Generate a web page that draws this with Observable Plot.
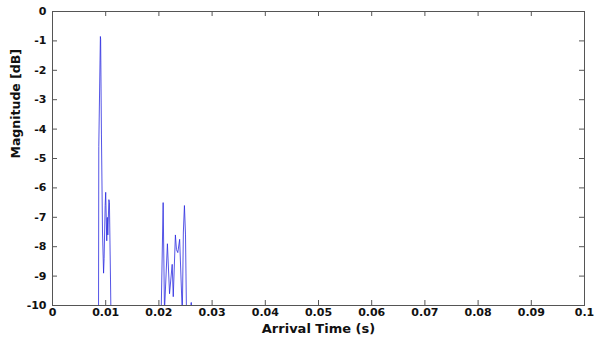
<!DOCTYPE html>
<html>
<head>
<meta charset="utf-8">
<script src="https://cdn.jsdelivr.net/npm/d3@7"></script>
<script src="https://cdn.jsdelivr.net/npm/@observablehq/plot@0.6"></script>
<style>
  html, body { margin: 0; padding: 0; background: #fff; }
  svg text { font-weight: bold; }
</style>
</head>
<body>
<div id="chart"></div>
<script>
// Arrival-time echoes (seconds) and magnitude (dB)
const cluster1Time = [0.00865, 0.0087, 0.0090, 0.00905, 0.0092, 0.0094, 0.0096, 0.0097, 0.0099, 0.0100, 0.0101, 0.0102, 0.0103, 0.0104, 0.0106, 0.0107, 0.0109, 0.0110];
const cluster1Db   = [-10.5, -4.6, -0.85, -0.95, -4.2, -7.5, -8.9, -8.4, -6.6, -6.15, -7.0, -7.8, -7.0, -7.6, -6.4, -6.5, -9.1, -10.5];
const cluster2Time = [0.0204, 0.0208, 0.02105, 0.0216, 0.0220, 0.0225, 0.0227, 0.0231, 0.0233, 0.02355, 0.0239, 0.0244, 0.0246, 0.0248, 0.0250, 0.0252];
const cluster2Db   = [-10.5, -6.5, -10.2, -7.9, -9.6, -8.6, -9.7, -7.6, -8.1, -8.2, -7.75, -10.3, -7.5, -6.6, -7.6, -10.5];
const cluster3Time = [0.0260, 0.02605, 0.0261, 0.02615];
const cluster3Db   = [-10.5, -9.9, -9.9, -10.5];

const xTicks = [0, 0.01, 0.02, 0.03, 0.04, 0.05, 0.06, 0.07, 0.08, 0.09, 0.1];
const yTicks = [0, -1, -2, -3, -4, -5, -6, -7, -8, -9, -10];
const xTitle = "Arrival Time (s)";
const yTitle = "Magnitude [dB]";

const data = [];
[[cluster1Time, cluster1Db, "c1"], [cluster2Time, cluster2Db, "c2"], [cluster3Time, cluster3Db, "c3"]]
  .forEach(([ts, ds, c]) => ts.forEach((t, i) => data.push({t, db: ds[i], cluster: c})));

const W = 600, H = 348;
const mL = 52, mR = 16, mT = 11, mB = 43;
const pW = W - mL - mR, pH = H - mT - mB;
const tk = 5;

const chart = Plot.plot({
  width: W, height: H,
  marginLeft: mL, marginRight: mR, marginTop: mT, marginBottom: mB,
  style: {fontFamily: "DejaVu Sans", fontSize: "11px", color: "#000", background: "#fff"},
  x: {domain: [0, 0.1]},
  y: {domain: [-10, 0]},
  marks: [
    Plot.line(data, {x: "t", y: "db", z: "cluster", stroke: "#2a2ae0", strokeWidth: 1, strokeOpacity: 0.8, clip: true}),
    Plot.tickX(xTicks, {x: d => d, insetTop: pH - tk, stroke: "#555"}),
    Plot.tickX(xTicks, {x: d => d, insetBottom: pH - tk, stroke: "#555"}),
    Plot.tickY(yTicks, {y: d => d, insetRight: pW - tk, stroke: "#555"}),
    Plot.tickY(yTicks, {y: d => d, insetLeft: pW - tk, stroke: "#555"}),
    Plot.frame({stroke: "#555"}),
    Plot.axisX(xTicks, {tickSize: 0, tickPadding: 3, tickFormat: d => String(d), label: null, fill: "#111"}),
    Plot.axisY(yTicks, {tickSize: 0, tickPadding: 6, tickFormat: d => String(d), label: null, fill: "#111"}),
    Plot.text([xTitle], {text: d => d, frameAnchor: "bottom", lineAnchor: "top", dy: 18, fontSize: 13, fill: "#111"}),
    Plot.text([yTitle], {text: d => d, frameAnchor: "left", rotate: -90, dx: -37, fontSize: 12.5, fill: "#111"})
  ]
});
document.getElementById("chart").appendChild(chart);
</script>
</body>
</html>
